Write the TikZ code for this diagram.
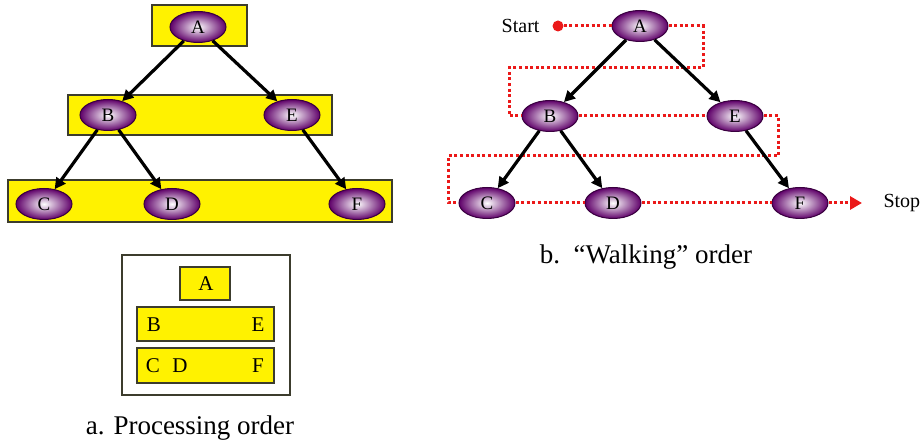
\documentclass[tikz,border=0pt]{standalone}
\usepackage{fontspec}
\setmainfont{Liberation Serif}
\usetikzlibrary{shapes.geometric,arrows.meta}
\definecolor{ballpurple}{RGB}{95,0,105}
\definecolor{boxline}{RGB}{60,60,45}
\definecolor{walkred}{RGB}{235,25,25}
\begin{document}
\begin{tikzpicture}[x=1pt,y=-1pt,
	ball/.style={ellipse,minimum width=56pt,minimum height=31pt,inner sep=0pt,draw=ballpurple!60!black,line width=1pt,inner color=white,outer color=ballpurple,font=\fontsize{19}{19}\selectfont},
	levelbox/.style={draw=boxline,fill=yellow,line width=1.6pt},
	edge/.style={line width=3.2pt,-{Triangle[length=11pt,width=11pt]}},
	walk/.style={walkred,line width=3pt,dash pattern=on 3pt off 2.6pt},
	letter/.style={font=\fontsize{21}{21}\selectfont,inner sep=0pt}]

		\useasboundingbox (0,0) rectangle (924,443);

		\draw[levelbox] (152,5) rectangle (247,46);
		\draw[levelbox] (68,95) rectangle (332,135);
		\draw[levelbox] (8,180) rectangle (392,222);

		\node[ball] (a1) at (198,27) {A};
		\node[ball] (b1) at (108,115) {B};
		\node[ball] (e1) at (292,115) {E};
		\node[ball] (c1) at (44,204) {C};
		\node[ball] (d1) at (172,204) {D};
		\node[ball] (f1) at (357,204) {F};
		\draw[edge] (a1) -- (b1);
		\draw[edge] (a1) -- (e1);
		\draw[edge] (b1) -- (c1);
		\draw[edge] (b1) -- (d1);
		\draw[edge] (e1) -- (f1);

		\draw[draw=boxline,line width=1.3pt] (122,255) rectangle (290,395);
		\draw[levelbox] (180,267) rectangle (230,300);
		\draw[levelbox] (137,307) rectangle (274,341);
		\draw[levelbox] (137,348) rectangle (274,383);
		\node[letter] (ka) at (206,284) {A};
		\node[letter] (kb) at (154,325) {B};
		\node[letter] (ke) at (258,325) {E};
		\node[letter] (kc) at (153,366) {C};
		\node[letter] (kd) at (180,366) {D};
		\node[letter] (kf) at (258,366) {F};
		\node[anchor=base,font=\fontsize{27}{27}\selectfont] (capta) at (190,435) {a. Processing order};

		\node[ball] (a2) at (640,26) {A};
		\node[ball] (b2) at (550,116) {B};
		\node[ball] (e2) at (735,116) {E};
		\node[ball] (c2) at (487,203) {C};
		\node[ball] (d2) at (613,203) {D};
		\node[ball] (f2) at (800,203) {F};

		\node[circle,fill=walkred,minimum size=11pt,inner sep=0pt] (startdot) at (558,26) {};
		\node[anchor=east,font=\fontsize{20}{20}\selectfont] (starttxt) at (543,26) {Start};
		\coordinate (turn1) at (703,68);
		\coordinate (turn2) at (509,68);
		\coordinate (turn3) at (778,156);
		\coordinate (turn4) at (448,156);
		\coordinate (stopend) at (862,203);
		\node[anchor=west,font=\fontsize{20}{20}\selectfont] (stoptxt) at (880,203) {Stop};

		\draw[walk] (startdot) -- (a2.west);
		\draw[walk] (a2.east) -| (turn1) -- (turn2) |- (b2.west);
		\draw[walk] (b2.east) -- (e2.west);
		\draw[walk] (e2.east) -| (turn3) -- (turn4) |- (c2.west);
		\draw[walk] (c2.east) -- (d2.west);
		\draw[walk] (d2.east) -- (f2.west);
		\draw[walk,-{Triangle[length=12pt,width=13pt]}] (f2.east) -- (stopend);

		\draw[edge] (a2) -- (b2);
		\draw[edge] (a2) -- (e2);
		\draw[edge] (b2) -- (c2);
		\draw[edge] (b2) -- (d2);
		\draw[edge] (e2) -- (f2);
		\node[anchor=base,font=\fontsize{27}{27}\selectfont] (captb) at (646,264) {b.\ \ “Walking” order};
	\end{tikzpicture}
\end{document}
